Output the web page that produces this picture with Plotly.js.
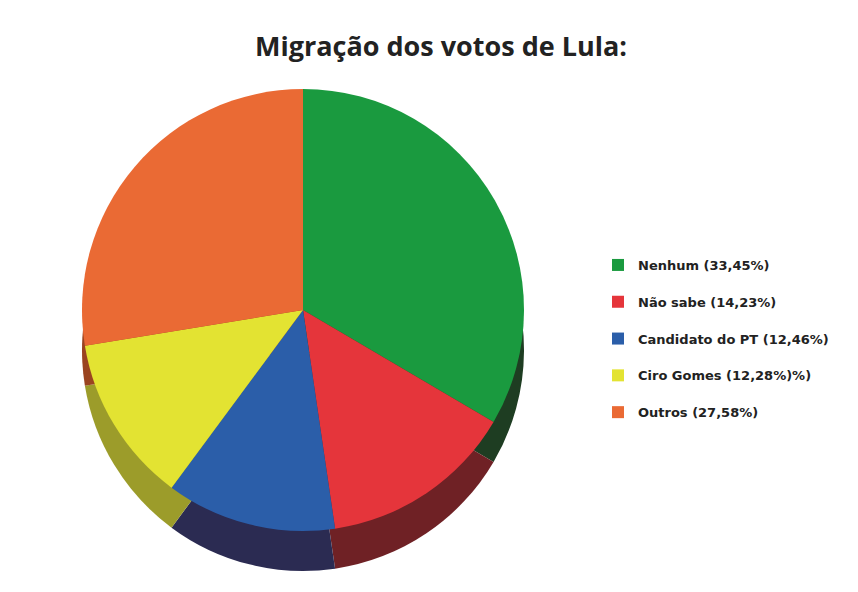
<!DOCTYPE html>
<html>
<head>
<meta charset="utf-8">
<script src="https://cdn.plot.ly/plotly-3.0.1.min.js"></script>
<style>html,body{margin:0;padding:0;background:#fff;}#chart{width:858px;height:592px;}</style>
</head>
<body>
<div id="chart"></div>
<script>
// Data
const categories = ["Nenhum", "Não sabe", "Candidato do PT", "Ciro Gomes", "Outros"];
const legendLabels = ["Nenhum (33,45%)", "Não sabe (14,23%)", "Candidato do PT (12,46%)", "Ciro Gomes (12,28%)%)", "Outros (27,58%)"];
const values = [33.45, 14.23, 12.46, 12.28, 27.58];
const topColors = ["#1a9a3f", "#e5353b", "#2b5ea9", "#e3e332", "#ea6a34"];
const sideColors = ["#1e3d22", "#6f2125", "#2b2b52", "#9c9c2a", "#9a4420"];

const W = 858, H = 592;
const cx = 303, cy = 310, r = 221, depth = 40;
function dom(cxp, cyp, rad) {
  return {
    x: [(cxp - rad) / W, (cxp + rad) / W],
    y: [1 - (cyp + rad) / H, 1 - (cyp - rad) / H]
  };
}

// legend shows the full label text; extra empty line gives the spacing seen in the reference
const pieLabels = legendLabels.map(s => s + '<br> ');

const sideTrace = {
  type: 'pie',
  labels: pieLabels,
  values: values,
  sort: false,
  direction: 'clockwise',
  rotation: 0,
  textinfo: 'none',
  hoverinfo: 'skip',
  showlegend: false,
  marker: {colors: sideColors, line: {width: 0}},
  domain: dom(cx, cy + depth, r)
};

const topTrace = {
  type: 'pie',
  labels: pieLabels,
  values: values,
  customdata: categories,
  sort: false,
  direction: 'clockwise',
  rotation: 0,
  textinfo: 'none',
  hovertemplate: '%{customdata}: %{value}%<extra></extra>',
  marker: {colors: topColors, line: {width: 0}},
  domain: dom(cx, cy, r)
};

const layout = {
  width: W, height: H,
  margin: {l: 0, r: 0, t: 0, b: 0},
  paper_bgcolor: '#ffffff',
  plot_bgcolor: '#ffffff',
  title: {
    text: '<b>Migração dos votos de Lula:</b>',
    x: 441 / W, xanchor: 'center',
    y: 1 - 47 / H, yanchor: 'middle',
    font: {family: 'Open Sans, sans-serif', size: 27, color: '#222222'}
  },
  showlegend: true,
  legend: {
    x: 598 / W, xanchor: 'left',
    y: 1 - 250 / H, yanchor: 'top',
    valign: 'top',
    font: {family: 'DejaVu Sans, sans-serif', size: 13, color: '#222222', weight: 'bold'},
    bgcolor: 'rgba(0,0,0,0)',
    itemclick: false
  }
};

Plotly.newPlot('chart', [sideTrace, topTrace], layout, {displayModeBar: false, staticPlot: true});
</script>
</body>
</html>
